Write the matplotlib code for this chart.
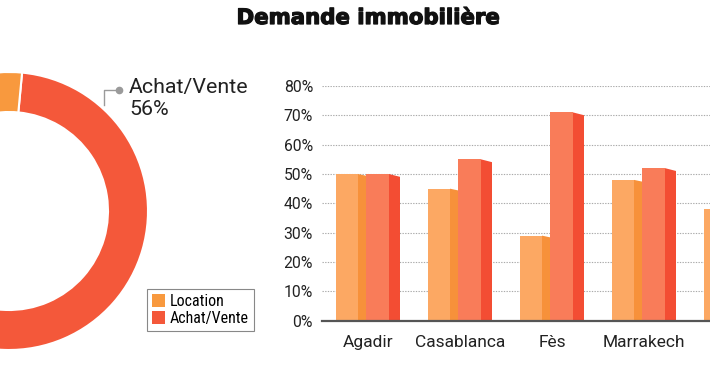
import matplotlib
matplotlib.use("Agg")
import matplotlib.pyplot as plt
import matplotlib.patheffects as pe
from matplotlib.patches import Polygon, Patch
import numpy as np

# ---- data ----
donut_labels = ["Location", "Achat/Vente"]
donut_values = [44, 56]
cities = ["Agadir", "Casablanca", "Fès", "Marrakech", "Rabat"]
location = [50, 45, 29, 48, 38]
achat = [50, 55, 71, 52, 62]
yticks = [0, 10, 20, 30, 40, 50, 60, 70, 80]

W, H = 710, 375
fig = plt.figure(figsize=(W / 100, H / 100), dpi=100)
fig.patch.set_facecolor("white")
plt.rcParams["font.family"] = ["Roboto", "DejaVu Sans"]

def px_rect(x0, y_top, w, h):
    return [x0 / W, (H - y_top - h) / H, w / W, h / H]

# colours
c_loc = "#F8993E"
c_ach = "#F4583A"
loc_front, loc_side = "#FCA863", "#F7913A"
ach_front, ach_side = "#F97C59", "#F34D33"

# ---- title ----
fig.text(368 / W, 1 - 18 / H, "Demande immobilière", ha="center", va="center",
         fontsize=15.3, fontweight="bold", color="#111111", family=["DejaVu Sans"],
         path_effects=[pe.withStroke(linewidth=0.9, foreground="#111111")])

# ---- donut ----
cx, cy = 9, 211
R = 139
axd = fig.add_axes(px_rect(cx - 150, cy - 150, 300, 300))
wedges, _ = axd.pie([donut_values[1], donut_values[0]], colors=[c_ach, c_loc],
                    radius=R, startangle=84.6, counterclock=False,
                    wedgeprops=dict(width=40, edgecolor="white", linewidth=1.5))
axd.set_xlim(-150, 150)
axd.set_ylim(-150, 150)
axd.set_aspect("equal")
axd.axis("off")

# leader line + label
ang = np.deg2rad(48)
ex, ey = (R + 3) * np.cos(ang), (R + 3) * np.sin(ang)
axd.plot([ex, ex, ex + 15], [ey, 121, 121], color="#9a9a9a", lw=1, clip_on=False)
axd.plot([ex + 15], [121], "o", color="#9a9a9a", ms=4.5, clip_on=False)
axd.text(120, 118, donut_labels[1], fontsize=15.4, color="#222222", va="baseline",
         ha="left", clip_on=False)
axd.text(120, 96, f"{donut_values[1]}%", fontsize=15.4, color="#222222", va="baseline",
         ha="left", clip_on=False)

# legend
handles = [Patch(facecolor=c_loc, edgecolor="none"), Patch(facecolor=c_ach, edgecolor="none")]
leg = fig.legend(handles, donut_labels, loc="upper left",
                 bbox_to_anchor=(147 / W, 1 - 289 / H), bbox_transform=fig.transFigure,
                 frameon=True, fancybox=False, edgecolor="#888888", framealpha=1,
                 prop=dict(family=["Roboto Condensed", "Liberation Sans Narrow", "DejaVu Sans"],
                           size=11.5),
                 handlelength=0.8, handleheight=0.8, handletextpad=0.3,
                 labelspacing=0.12, borderpad=0.32, borderaxespad=0)
leg.get_frame().set_linewidth(0.8)

# ---- bar chart ----
unit = 92.0
axb = fig.add_axes(px_rect(322, 86, unit * 5, 320.7 - 86))
axb.set_xlim(-0.5, 4.5)
axb.set_ylim(0, 80)
x = np.arange(len(cities))
px = 1 / unit
drop = 0.8

lf0, lf1 = -32 * px, -10 * px
ls1 = 1 * px
af0, af1 = -2 * px, 21 * px
as1 = 32 * px

for i in x:
    axb.add_patch(Polygon([(i + lf1, 0), (i + ls1, 0), (i + ls1, location[i] - drop),
                           (i + lf1, location[i])], closed=True, facecolor=loc_side,
                          edgecolor="none", zorder=3))
axb.bar(x + (lf0 + lf1) / 2, location, width=lf1 - lf0, color=loc_front, zorder=3.1,
        linewidth=0)
for i in x:
    axb.add_patch(Polygon([(i + af1, 0), (i + as1, 0), (i + as1, achat[i] - drop * 1.2),
                           (i + af1, achat[i])], closed=True, facecolor=ach_side,
                          edgecolor="none", zorder=3.2))
axb.bar(x + (af0 + af1) / 2, achat, width=af1 - af0, color=ach_front, zorder=3.3,
        linewidth=0)

axb.set_yticks(yticks)
axb.set_yticklabels([f"{v}%" for v in yticks])
# only the first four city labels fall inside the visible picture
axb.set_xticks(x[:4])
axb.set_xticklabels(cities[:4])
for s in ["left", "right", "top"]:
    axb.spines[s].set_visible(False)
axb.spines["bottom"].set_color("#555555")
axb.spines["bottom"].set_linewidth(1.6)
axb.spines["bottom"].set_zorder(5)
axb.tick_params(axis="y", length=0, pad=6.5, labelsize=11.3, labelcolor="#222222")
axb.tick_params(axis="x", length=0, pad=10, labelsize=12.5, labelcolor="#222222")
axb.yaxis.grid(True, color="#aaaaaa", linestyle=(0, (1.2, 1.2)), linewidth=0.8)
axb.set_axisbelow(True)
axb.patch.set_alpha(0)

fig.savefig("out.png", dpi=100, facecolor="white")
